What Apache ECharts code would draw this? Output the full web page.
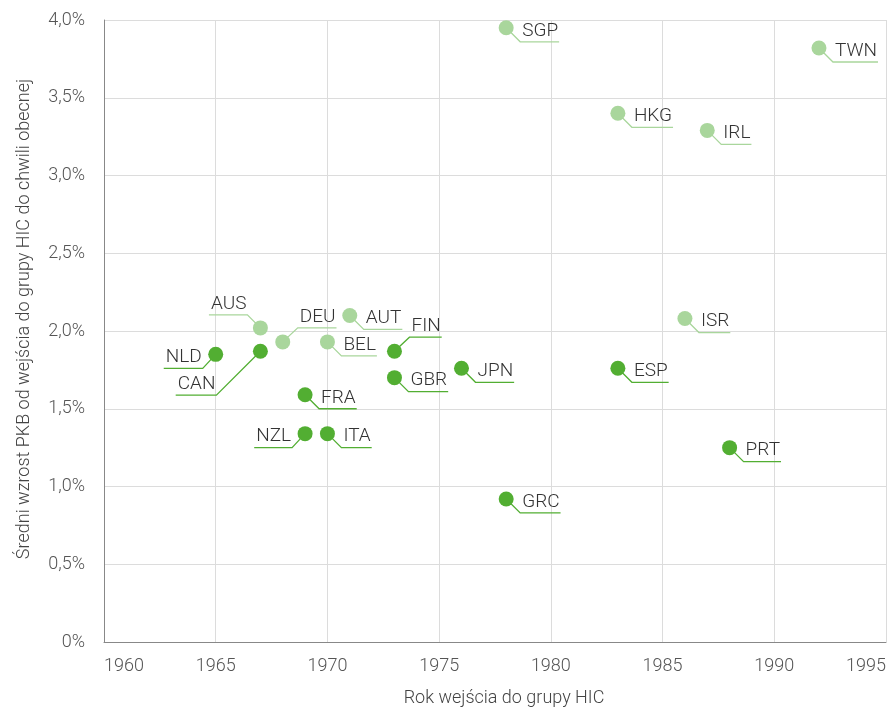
<!DOCTYPE html>
<html>
<head>
<meta charset="utf-8">
<script src="https://cdn.jsdelivr.net/npm/echarts@6/dist/echarts.min.js"></script>
<style>
  html, body { margin: 0; padding: 0; background: #fff; }
  #chart { width: 889px; height: 710px; }
</style>
</head>
<body>
<div id="chart"></div>
<script>
// dane: kraj, rok wejścia do grupy HIC, średni wzrost PKB (%)
const countries = ['SGP', 'TWN', 'HKG', 'IRL', 'ISR', 'AUS', 'DEU', 'AUT', 'BEL',
  'FIN', 'NLD', 'CAN', 'GBR', 'JPN', 'ESP', 'FRA', 'NZL', 'ITA', 'PRT', 'GRC'];
const entryYear = [1978, 1992, 1983, 1987, 1986, 1967, 1968, 1971, 1970,
  1973, 1965, 1967, 1973, 1976, 1983, 1969, 1969, 1970, 1988, 1978];
const avgGrowth = [3.95, 3.82, 3.40, 3.29, 2.08, 2.02, 1.93, 2.10, 1.93,
  1.87, 1.85, 1.87, 1.70, 1.76, 1.76, 1.59, 1.34, 1.34, 1.25, 0.92];
const group = ['light', 'light', 'light', 'light', 'light', 'light', 'light', 'light', 'light',
  'dark', 'dark', 'dark', 'dark', 'dark', 'dark', 'dark', 'dark', 'dark', 'dark', 'dark'];

const FONT = 'Roboto, "Liberation Sans", sans-serif';
const COLORS = { dark: '#52ae32', light: '#a9d69c' };
const LABEL_FONT = '300 19px ' + FONT;

// gdzie stoi etykieta (domyślnie w prawo w dół)
const labelSide = { AUS: 'tl', DEU: 'tr', FIN: 'tr', NLD: 'l', NZL: 'l', CAN: 'lfar' };
const corner = { r: [14, 14], tr: [15, -14], tl: [-13, -13], l: [-13, 14], lfar: [-44, 44] };

const measureCtx = document.createElement('canvas').getContext('2d');
measureCtx.font = LABEL_FONT;

const points = countries.map((c, i) => [entryYear[i], avgGrowth[i]]);

function renderLabel(params, api) {
  const i = params.dataIndex;
  const name = countries[i];
  const p = api.coord([api.value(0), api.value(1)]);
  const side = labelSide[name] || 'r';
  const w = measureCtx.measureText(name).width;
  const c = [p[0] + corner[side][0], p[1] + corner[side][1]];
  const toRight = corner[side][0] > 0;
  const end = [toRight ? c[0] + w + 3 : c[0] - w - 3, c[1]];
  const color = COLORS[group[i]];
  return {
    type: 'group',
    children: [
      {
        type: 'polyline',
        shape: { points: [p, c, end] },
        style: { stroke: color, lineWidth: 1.3, fill: null }
      },
      {
        type: 'text',
        x: toRight ? c[0] + 2 : c[0] - 1,
        y: c[1] - 11,
        style: {
          text: name,
          fill: '#333',
          font: LABEL_FONT,
          align: toRight ? 'left' : 'right',
          verticalAlign: 'middle'
        }
      }
    ]
  };
}

const axisText = { color: '#555', fontSize: 18, fontWeight: 300, fontFamily: FONT };

const chart = echarts.init(document.getElementById('chart'));
chart.setOption({
  animation: false,
  grid: { left: 104, right: 3, top: 20, bottom: 68, outerBoundsMode: 'none' },
  xAxis: {
    type: 'value',
    min: 1960,
    max: 1995,
    interval: 5,
    name: 'Rok wejścia do grupy HIC',
    nameLocation: 'middle',
    nameGap: 47,
    nameTextStyle: Object.assign({}, axisText, { color: '#444', padding: [0, 0, 0, 18] }),
    axisLine: { lineStyle: { color: '#888' } },
    axisTick: { show: false },
    axisLabel: Object.assign({}, axisText, {
      margin: 15,
      formatter: v => String(v),
      alignMinLabel: 'left', alignMaxLabel: 'right'
    }),
    splitLine: { lineStyle: { color: '#dcdcdc' } }
  },
  yAxis: {
    type: 'value',
    min: 0,
    max: 4,
    interval: 0.5,
    name: 'Średni wzrost PKB od wejścia do grupy HIC do chwili obecnej',
    nameLocation: 'middle',
    nameGap: 71,
    nameTextStyle: Object.assign({}, axisText, { color: '#444', padding: [0, 0, 0, 24] }),
    axisLine: { show: true, lineStyle: { color: '#888' } },
    axisTick: { show: false },
    axisLabel: Object.assign({}, axisText, {
      margin: 19,
      formatter: v => v === 0 ? '0%' : v.toFixed(1).replace('.', ',') + '%'
    }),
    splitLine: { lineStyle: { color: '#dcdcdc' } }
  },
  series: [
    {
      type: 'custom',
      renderItem: renderLabel,
      data: points,
      z: 2,
      silent: true
    },
    {
      type: 'scatter',
      symbolSize: 15,
      z: 3,
      itemStyle: { color: COLORS.light, opacity: 1 },
      data: points.filter((d, i) => group[i] === 'light')
    },
    {
      type: 'scatter',
      symbolSize: 15,
      z: 3,
      itemStyle: { color: COLORS.dark, opacity: 1 },
      data: points.filter((d, i) => group[i] === 'dark')
    }
  ]
});
</script>
</body>
</html>
